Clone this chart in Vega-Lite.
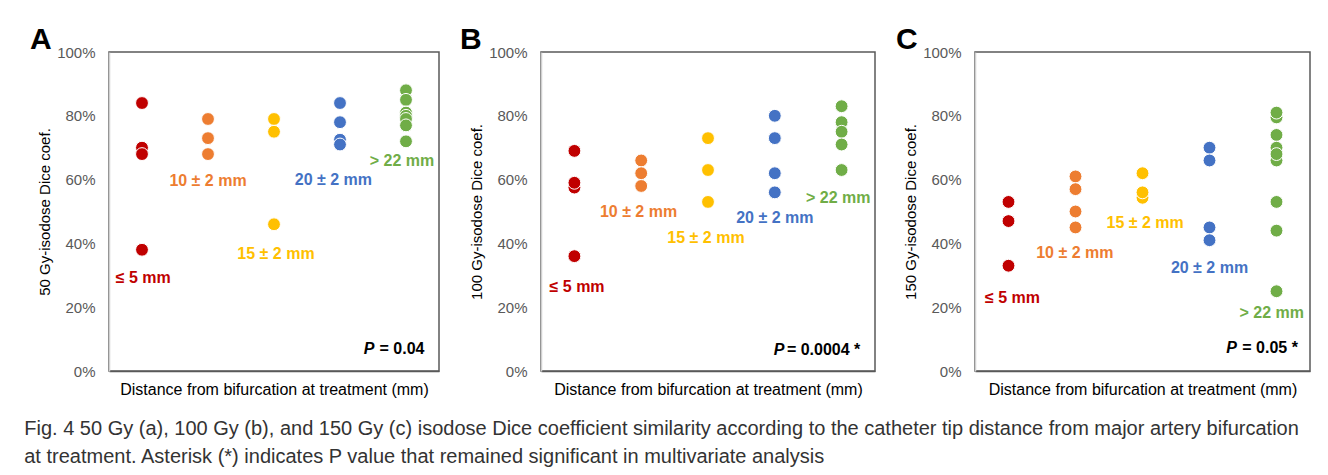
{
  "$schema": "https://vega.github.io/schema/vega-lite/v6.json",
  "padding": {"left": 24, "top": 24, "right": 5, "bottom": 5},
  "background": "white",
  "datasets": {
    "points": [
      {"p":"A","g":1,"grp":"g1","v":84},{"p":"A","g":1,"grp":"g1","v":70},{"p":"A","g":1,"grp":"g1","v":68},{"p":"A","g":1,"grp":"g1","v":38},
      {"p":"A","g":2,"grp":"g2","v":79},{"p":"A","g":2,"grp":"g2","v":73},{"p":"A","g":2,"grp":"g2","v":68},
      {"p":"A","g":3,"grp":"g3","v":79},{"p":"A","g":3,"grp":"g3","v":75},{"p":"A","g":3,"grp":"g3","v":46},
      {"p":"A","g":4,"grp":"g4","v":84},{"p":"A","g":4,"grp":"g4","v":78},{"p":"A","g":4,"grp":"g4","v":72.5},{"p":"A","g":4,"grp":"g4","v":71},
      {"p":"A","g":5,"grp":"g5","v":88},{"p":"A","g":5,"grp":"g5","v":85},{"p":"A","g":5,"grp":"g5","v":81},{"p":"A","g":5,"grp":"g5","v":80},{"p":"A","g":5,"grp":"g5","v":79},{"p":"A","g":5,"grp":"g5","v":77},{"p":"A","g":5,"grp":"g5","v":72},
      {"p":"B","g":1,"grp":"g1","v":69},{"p":"B","g":1,"grp":"g1","v":57.5},{"p":"B","g":1,"grp":"g1","v":59},{"p":"B","g":1,"grp":"g1","v":36},
      {"p":"B","g":2,"grp":"g2","v":66},{"p":"B","g":2,"grp":"g2","v":58},{"p":"B","g":2,"grp":"g2","v":62},
      {"p":"B","g":3,"grp":"g3","v":73},{"p":"B","g":3,"grp":"g3","v":63},{"p":"B","g":3,"grp":"g3","v":53},
      {"p":"B","g":4,"grp":"g4","v":80},{"p":"B","g":4,"grp":"g4","v":73},{"p":"B","g":4,"grp":"g4","v":62},{"p":"B","g":4,"grp":"g4","v":56},
      {"p":"B","g":5,"grp":"g5","v":83},{"p":"B","g":5,"grp":"g5","v":78},{"p":"B","g":5,"grp":"g5","v":75},{"p":"B","g":5,"grp":"g5","v":71},{"p":"B","g":5,"grp":"g5","v":63},
      {"p":"C","g":1,"grp":"g1","v":53},{"p":"C","g":1,"grp":"g1","v":47},{"p":"C","g":1,"grp":"g1","v":33},
      {"p":"C","g":2,"grp":"g2","v":61},{"p":"C","g":2,"grp":"g2","v":57},{"p":"C","g":2,"grp":"g2","v":50},{"p":"C","g":2,"grp":"g2","v":45},
      {"p":"C","g":3,"grp":"g3","v":54.3},{"p":"C","g":3,"grp":"g3","v":62},{"p":"C","g":3,"grp":"g3","v":56},
      {"p":"C","g":4,"grp":"g4","v":70},{"p":"C","g":4,"grp":"g4","v":66},{"p":"C","g":4,"grp":"g4","v":45},{"p":"C","g":4,"grp":"g4","v":41},
      {"p":"C","g":5,"grp":"g5","v":79.5},{"p":"C","g":5,"grp":"g5","v":81},{"p":"C","g":5,"grp":"g5","v":74},{"p":"C","g":5,"grp":"g5","v":66},{"p":"C","g":5,"grp":"g5","v":70},{"p":"C","g":5,"grp":"g5","v":68},{"p":"C","g":5,"grp":"g5","v":53},{"p":"C","g":5,"grp":"g5","v":44},{"p":"C","g":5,"grp":"g5","v":25}
    ],
    "labels": [
      {"p":"A","grp":"g1","t":"≤ 5 mm","xpos":1.02,"ypos":29.3},
      {"p":"A","grp":"g2","t":"10 ± 2 mm","xpos":2.0,"ypos":59.5},
      {"p":"A","grp":"g3","t":"15 ± 2 mm","xpos":3.03,"ypos":36.6},
      {"p":"A","grp":"g4","t":"20 ± 2 mm","xpos":3.9,"ypos":60.0},
      {"p":"A","grp":"g5","t":"> 22 mm","xpos":4.94,"ypos":65.8},
      {"p":"B","grp":"g1","t":"≤ 5 mm","xpos":1.04,"ypos":26.4},
      {"p":"B","grp":"g2","t":"10 ± 2 mm","xpos":1.96,"ypos":49.9},
      {"p":"B","grp":"g3","t":"15 ± 2 mm","xpos":2.97,"ypos":41.8},
      {"p":"B","grp":"g4","t":"20 ± 2 mm","xpos":4.0,"ypos":48.1},
      {"p":"B","grp":"g5","t":"> 22 mm","xpos":4.95,"ypos":54.1},
      {"p":"C","grp":"g1","t":"≤ 5 mm","xpos":1.06,"ypos":22.8},
      {"p":"C","grp":"g2","t":"10 ± 2 mm","xpos":1.99,"ypos":37.1},
      {"p":"C","grp":"g3","t":"15 ± 2 mm","xpos":3.04,"ypos":46.5},
      {"p":"C","grp":"g4","t":"20 ± 2 mm","xpos":4.0,"ypos":32.4},
      {"p":"C","grp":"g5","t":"> 22 mm","xpos":4.93,"ypos":18.1}
    ],
    "pvals": [
      {"p":"A","rest":"= 0.04","xpos":5.28,"ypos":7.0},
      {"p":"B","rest":"= 0.0004 *","xpos":5.28,"ypos":6.6},
      {"p":"C","rest":"= 0.05 *","xpos":5.32,"ypos":7.1}
    ]
  },
  "config": {
    "font": "Liberation Sans",
    "view": {"stroke": "#595959", "strokeWidth": 1.5},
    "concat": {"spacing": 19},
    "axis": {"grid": false, "ticks": false}
  },
  "title": {
    "text": [
      "Fig. 4 50 Gy (a), 100 Gy (b), and 150 Gy (c) isodose Dice coefficient similarity according to the catheter tip distance from major artery bifurcation",
      "at treatment. Asterisk (*) indicates P value that remained significant in multivariate analysis"
    ],
    "orient": "bottom",
    "anchor": "start",
    "frame": "bounds",
    "font": "Liberation Sans",
    "fontSize": 20,
    "fontWeight": "normal",
    "color": "#333333",
    "lineHeight": 28,
    "offset": 21,
    "dx": -5
  },
  "hconcat": [
    {
      "width": 330, "height": 319,
      "title": {"text": "A", "anchor": "start", "frame": "group", "fontSize": 30, "fontWeight": "bold", "color": "black", "dx": -79, "dy": 40, "offset": 0, "baseline": "bottom"},
      "layer": [
        {
          "data": {"name": "points"},
          "transform": [{"filter": "datum.p === 'A'"}],
          "mark": {"type": "circle", "size": 165, "opacity": 1, "stroke": "white", "strokeWidth": 1},
          "encoding": {
            "x": {"field": "g", "type": "quantitative", "scale": {"domain": [0.5, 5.5], "nice": false, "zero": false},
                  "axis": {"orient": "bottom", "labels": false, "domainColor": "#595959", "domainWidth": 1.5, "title": "Distance from bifurcation at treatment (mm)", "titleFontSize": 16, "titleFontWeight": "normal", "titleColor": "black", "titlePadding": 10}},
            "y": {"field": "v", "type": "quantitative", "scale": {"domain": [0, 100], "nice": false},
                  "axis": {"orient": "left", "values": [0, 20, 40, 60, 80, 100], "labelExpr": "datum.value + '%'", "labelColor": "#595959", "labelFontSize": 15, "labelPadding": 14, "domainColor": "#d0d0d0", "domainWidth": 1.5, "zindex": 1, "title": "50 Gy-isodose Dice coef.", "titleFontSize": 15, "titleFontWeight": "normal", "titleColor": "black", "titlePadding": 4}},
            "color": {"field": "grp", "type": "nominal", "scale": {"domain": ["g1","g2","g3","g4","g5"], "range": ["#C00000","#ED7D31","#FFC000","#4472C4","#70AD47"]}, "legend": null}
          }
        },
        {
          "data": {"name": "labels"},
          "transform": [{"filter": "datum.p === 'A'"}],
          "mark": {"type": "text", "fontSize": 16, "fontWeight": "bold", "align": "center", "baseline": "middle"},
          "encoding": {
            "x": {"field": "xpos", "type": "quantitative"},
            "y": {"field": "ypos", "type": "quantitative"},
            "text": {"field": "t"},
            "color": {"field": "grp", "type": "nominal", "legend": null}
          }
        },
        {
          "data": {"name": "pvals"},
          "transform": [{"filter": "datum.p === 'A'"}],
          "mark": {"type": "text", "fontSize": 16, "fontWeight": "bold", "align": "right", "baseline": "middle", "color": "black"},
          "encoding": {
            "x": {"field": "xpos", "type": "quantitative"},
            "y": {"field": "ypos", "type": "quantitative"},
            "text": {"field": "rest"}
          }
        },
        {
          "data": {"name": "pvals"},
          "transform": [{"filter": "datum.p === 'A'"}],
          "mark": {"type": "text", "fontSize": 16, "fontWeight": "bold", "fontStyle": "italic", "align": "right", "baseline": "middle", "color": "black", "dx": -50},
          "encoding": {
            "x": {"field": "xpos", "type": "quantitative"},
            "y": {"field": "ypos", "type": "quantitative"},
            "text": {"value": "P"}
          }
        }
      ]
    },
    {
      "width": 334, "height": 319,
      "title": {"text": "B", "anchor": "start", "frame": "group", "fontSize": 30, "fontWeight": "bold", "color": "black", "dx": -81, "dy": 40, "offset": 0, "baseline": "bottom"},
      "layer": [
        {
          "data": {"name": "points"},
          "transform": [{"filter": "datum.p === 'B'"}],
          "mark": {"type": "circle", "size": 165, "opacity": 1, "stroke": "white", "strokeWidth": 1},
          "encoding": {
            "x": {"field": "g", "type": "quantitative", "scale": {"domain": [0.5, 5.5], "nice": false, "zero": false},
                  "axis": {"orient": "bottom", "labels": false, "domainColor": "#595959", "domainWidth": 1.5, "title": "Distance from bifurcation at treatment (mm)", "titleFontSize": 16, "titleFontWeight": "normal", "titleColor": "black", "titlePadding": 10}},
            "y": {"field": "v", "type": "quantitative", "scale": {"domain": [0, 100], "nice": false},
                  "axis": {"orient": "left", "values": [0, 20, 40, 60, 80, 100], "labelExpr": "datum.value + '%'", "labelColor": "#595959", "labelFontSize": 15, "labelPadding": 14, "domainColor": "#d0d0d0", "domainWidth": 1.5, "zindex": 1, "title": "100 Gy-isodose Dice coef.", "titleFontSize": 15, "titleFontWeight": "normal", "titleColor": "black", "titlePadding": 4}},
            "color": {"field": "grp", "type": "nominal", "scale": {"domain": ["g1","g2","g3","g4","g5"], "range": ["#C00000","#ED7D31","#FFC000","#4472C4","#70AD47"]}, "legend": null}
          }
        },
        {
          "data": {"name": "labels"},
          "transform": [{"filter": "datum.p === 'B'"}],
          "mark": {"type": "text", "fontSize": 16, "fontWeight": "bold", "align": "center", "baseline": "middle"},
          "encoding": {
            "x": {"field": "xpos", "type": "quantitative"},
            "y": {"field": "ypos", "type": "quantitative"},
            "text": {"field": "t"},
            "color": {"field": "grp", "type": "nominal", "legend": null}
          }
        },
        {
          "data": {"name": "pvals"},
          "transform": [{"filter": "datum.p === 'B'"}],
          "mark": {"type": "text", "fontSize": 16, "fontWeight": "bold", "align": "right", "baseline": "middle", "color": "black"},
          "encoding": {
            "x": {"field": "xpos", "type": "quantitative"},
            "y": {"field": "ypos", "type": "quantitative"},
            "text": {"field": "rest"}
          }
        },
        {
          "data": {"name": "pvals"},
          "transform": [{"filter": "datum.p === 'B'"}],
          "mark": {"type": "text", "fontSize": 16, "fontWeight": "bold", "fontStyle": "italic", "align": "right", "baseline": "middle", "color": "black", "dx": -76},
          "encoding": {
            "x": {"field": "xpos", "type": "quantitative"},
            "y": {"field": "ypos", "type": "quantitative"},
            "text": {"value": "P"}
          }
        }
      ]
    },
    {
      "width": 335, "height": 319,
      "title": {"text": "C", "anchor": "start", "frame": "group", "fontSize": 30, "fontWeight": "bold", "color": "black", "dx": -79, "dy": 40, "offset": 0, "baseline": "bottom"},
      "layer": [
        {
          "data": {"name": "points"},
          "transform": [{"filter": "datum.p === 'C'"}],
          "mark": {"type": "circle", "size": 165, "opacity": 1, "stroke": "white", "strokeWidth": 1},
          "encoding": {
            "x": {"field": "g", "type": "quantitative", "scale": {"domain": [0.5, 5.5], "nice": false, "zero": false},
                  "axis": {"orient": "bottom", "labels": false, "domainColor": "#595959", "domainWidth": 1.5, "title": "Distance from bifurcation at treatment (mm)", "titleFontSize": 16, "titleFontWeight": "normal", "titleColor": "black", "titlePadding": 10}},
            "y": {"field": "v", "type": "quantitative", "scale": {"domain": [0, 100], "nice": false},
                  "axis": {"orient": "left", "values": [0, 20, 40, 60, 80, 100], "labelExpr": "datum.value + '%'", "labelColor": "#595959", "labelFontSize": 15, "labelPadding": 14, "domainColor": "#d0d0d0", "domainWidth": 1.5, "zindex": 1, "title": "150 Gy-isodose Dice coef.", "titleFontSize": 15, "titleFontWeight": "normal", "titleColor": "black", "titlePadding": 4}},
            "color": {"field": "grp", "type": "nominal", "scale": {"domain": ["g1","g2","g3","g4","g5"], "range": ["#C00000","#ED7D31","#FFC000","#4472C4","#70AD47"]}, "legend": null}
          }
        },
        {
          "data": {"name": "labels"},
          "transform": [{"filter": "datum.p === 'C'"}],
          "mark": {"type": "text", "fontSize": 16, "fontWeight": "bold", "align": "center", "baseline": "middle"},
          "encoding": {
            "x": {"field": "xpos", "type": "quantitative"},
            "y": {"field": "ypos", "type": "quantitative"},
            "text": {"field": "t"},
            "color": {"field": "grp", "type": "nominal", "legend": null}
          }
        },
        {
          "data": {"name": "pvals"},
          "transform": [{"filter": "datum.p === 'C'"}],
          "mark": {"type": "text", "fontSize": 16, "fontWeight": "bold", "align": "right", "baseline": "middle", "color": "black"},
          "encoding": {
            "x": {"field": "xpos", "type": "quantitative"},
            "y": {"field": "ypos", "type": "quantitative"},
            "text": {"field": "rest"}
          }
        },
        {
          "data": {"name": "pvals"},
          "transform": [{"filter": "datum.p === 'C'"}],
          "mark": {"type": "text", "fontSize": 16, "fontWeight": "bold", "fontStyle": "italic", "align": "right", "baseline": "middle", "color": "black", "dx": -61},
          "encoding": {
            "x": {"field": "xpos", "type": "quantitative"},
            "y": {"field": "ypos", "type": "quantitative"},
            "text": {"value": "P"}
          }
        }
      ]
    }
  ]
}
